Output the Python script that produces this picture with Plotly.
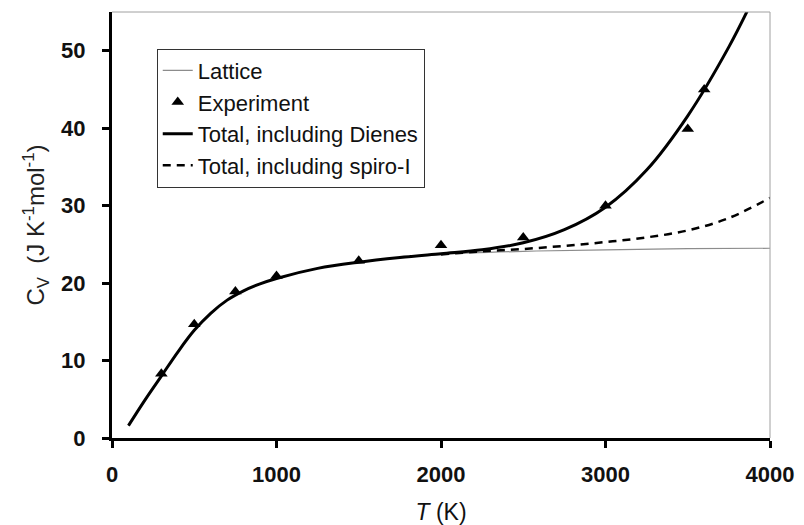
import plotly.graph_objects as go

# Lattice contribution
lattice_T = [100, 200, 300, 400, 500, 600, 700, 800, 900, 1000, 1250, 1500, 1750, 2000, 2500, 3000, 3500, 4000]
lattice_cv = [1.6, 4.9, 8.0, 11.1, 13.9, 16.1, 17.8, 19.0, 19.9, 20.6, 21.9, 22.7, 23.3, 23.7, 24.1, 24.3, 24.45, 24.5]

# Total including dienes
dienes_T = [100, 200, 300, 400, 500, 600, 700, 800, 900, 1000, 1250, 1500, 1750, 2000, 2250, 2500, 2750, 3000, 3250, 3500, 3750, 3900]
dienes_cv = [1.6, 4.9, 8.0, 11.1, 13.9, 16.1, 17.8, 19.0, 19.9, 20.6, 21.9, 22.7, 23.3, 23.8, 24.3, 25.2, 26.9, 29.8, 34.6, 41.6, 50.5, 56.8]

# Total including spiro-I
spiro_T = [2000, 2250, 2500, 2750, 3000, 3250, 3500, 3750, 4000]
spiro_cv = [23.7, 24.1, 24.4, 24.8, 25.3, 25.9, 26.8, 28.4, 31.0]

# Experiment
exp_T = [300, 500, 750, 1000, 1500, 2000, 2500, 3000, 3500, 3600]
exp_cv = [8.3, 14.7, 18.9, 20.9, 22.9, 24.9, 25.9, 30.0, 39.9, 45.0]

x_ticks = [0, 1000, 2000, 3000, 4000]
y_ticks = [0, 10, 20, 30, 40, 50]

fig = go.Figure()
fig.add_trace(go.Scatter(x=lattice_T, y=lattice_cv, mode="lines", name="Lattice",
                         line=dict(color="#8c8c8c", width=1.2, shape="spline"), legendrank=1))
fig.add_trace(go.Scatter(x=spiro_T, y=spiro_cv, mode="lines", name="Total, including spiro-I",
                         line=dict(color="black", width=2.5, dash="8px,6px", shape="spline"), legendrank=4))
fig.add_trace(go.Scatter(x=dienes_T, y=dienes_cv, mode="lines", name="Total, including Dienes",
                         line=dict(color="black", width=3, shape="spline"), legendrank=3))
fig.add_trace(go.Scatter(x=exp_T, y=exp_cv, mode="markers", name="Experiment",
                         marker=dict(symbol="triangle-up", size=11, color="black"), legendrank=2))

# page body has an 8px margin; compensate so the plot area lands at x 112-770, y 12-430
fig.update_layout(
    width=796, height=517,
    margin=dict(l=104, r=34, t=4, b=87),
    paper_bgcolor="white", plot_bgcolor="white",
    font=dict(family="Arial, Liberation Sans, sans-serif", color="#111"),
    legend=dict(x=0.068, y=0.914, xanchor="left", yanchor="top",
                bgcolor="white", bordercolor="#333", borderwidth=1,
                font=dict(size=22, color="#111"), itemwidth=30,
                tracegroupgap=0),
    showlegend=True,
)
fig.update_xaxes(range=[0, 4000], tickvals=x_ticks, ticks="outside", ticklen=7, tickwidth=3,
                 tickcolor="black", showline=True, linecolor="black", linewidth=3,
                 showgrid=False, zeroline=False,
                 tickfont=dict(size=22, weight="bold", color="#111"),
                 ticklabelstandoff=8,
                 title=dict(text="<i>T</i> (K)", font=dict(size=23, color="#111"), standoff=18))
fig.update_yaxes(range=[0, 55], tickvals=y_ticks, ticks="outside", ticklen=7, tickwidth=3,
                 tickcolor="black", showline=True, linecolor="black", linewidth=3,
                 showgrid=False, zeroline=False,
                 tickfont=dict(size=22, weight="bold", color="#111"),
                 ticklabelstandoff=12,
                 title=dict(text="C<sub>V</sub>  (J K<sup>-1</sup>mol<sup>-1</sup>)",
                            font=dict(size=24, color="#222"), standoff=10))

# thin grey frame on top and right
fig.add_shape(type="line", xref="paper", yref="paper", x0=0, x1=1, y0=1, y1=1,
              line=dict(color="#a0a0a0", width=1))
fig.add_shape(type="line", xref="paper", yref="paper", x0=1, x1=1, y0=0, y1=1,
              line=dict(color="#a0a0a0", width=1))

fig.write_html("out.html")
